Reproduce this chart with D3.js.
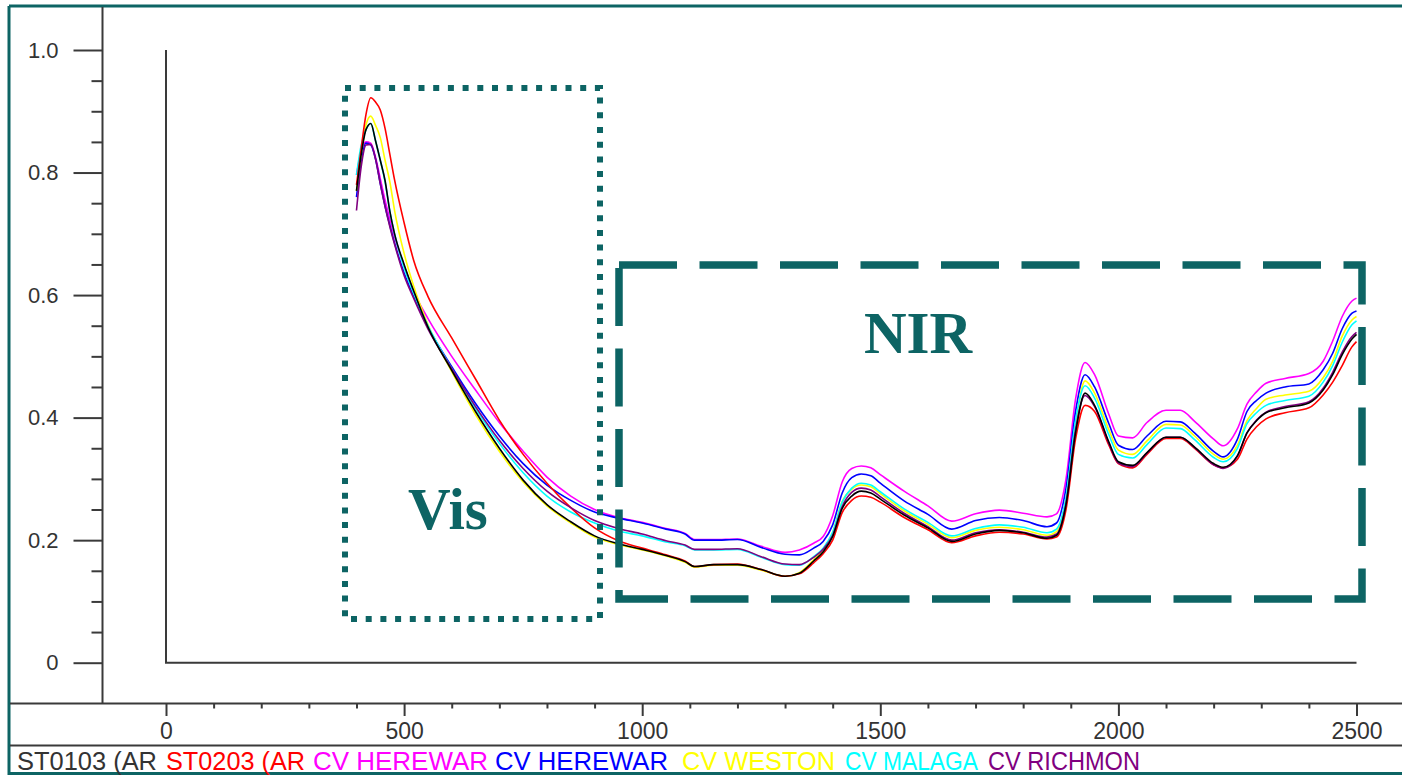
<!DOCTYPE html>
<html>
<head>
<meta charset="utf-8">
<script src="https://cdn.jsdelivr.net/npm/d3@7"></script>
<style>
  html, body { margin: 0; padding: 0; background: #fff; }
  svg { display: block; }
  .axis text { font-family: "Liberation Sans", Arial, sans-serif; fill: #333; }
  .axis line { stroke: #3a3a3a; stroke-width: 2; }
</style>
</head>
<body>
<svg id="chart" width="1402" height="775"></svg>
<script>
// Reflectance spectra (wavelength in nm) for seven samples
const wavelengths = [400,410,420,430,440,450,460,470,480,500,520,550,600,650,700,750,800,850,900,950,1000,
  1050,1090,1110,1150,1200,1250,1300,1330,1360,1380,1400,1420,1440,1460,1480,1500,
  1550,1600,1650,1700,1750,1800,1850,1870,1890,1910,1930,1950,1980,2000,2030,2060,2100,2130,2160,2200,2220,
  2250,2270,2290,2310,2350,2400,2430,2450,2470,2490,2500];

const st0103 = [0.77,0.83,0.87,0.88,0.852,0.82,0.787,0.737,0.70,0.650,0.607,0.548,
  0.477,0.410,0.350,0.298,0.258,0.230,0.207,0.194,0.185,
  0.175,0.165,0.157,0.160,0.160,0.152,0.141,0.146,0.166,0.181,
  0.206,0.252,0.272,0.280,0.277,0.267,
  0.241,0.220,0.198,0.210,0.216,0.212,0.203,0.208,0.258,0.375,0.440,
  0.420,0.360,0.328,0.322,0.343,0.368,0.368,0.352,0.325,0.319,
  0.338,0.375,0.395,0.408,0.416,0.424,0.445,0.470,0.503,0.528,0.536];

const st0203 = [0.78,0.84,0.895,0.922,0.915,0.902,0.872,0.83,0.788,0.718,0.657,0.598,
  0.530,0.463,0.396,0.340,0.293,0.253,0.220,0.199,0.187,
  0.176,0.166,0.157,0.160,0.161,0.152,0.141,0.145,0.163,0.178,
  0.200,0.245,0.265,0.272,0.270,0.262,
  0.237,0.217,0.196,0.207,0.213,0.210,0.202,0.205,0.250,0.365,0.420,
  0.410,0.355,0.325,0.318,0.340,0.366,0.366,0.350,0.323,0.318,
  0.332,0.365,0.385,0.398,0.408,0.416,0.437,0.458,0.485,0.515,0.524];

const herewarA = [0.796,0.835,0.85,0.848,0.825,0.79,0.755,0.724,0.695,0.648,0.606,0.562,
  0.500,0.445,0.392,0.345,0.303,0.272,0.250,0.237,0.229,
  0.219,0.211,0.201,0.201,0.202,0.190,0.180,0.184,0.195,0.206,
  0.240,0.295,0.317,0.321,0.318,0.307,
  0.280,0.256,0.231,0.243,0.249,0.244,0.238,0.243,0.300,0.430,0.490,
  0.470,0.405,0.370,0.367,0.392,0.412,0.412,0.394,0.365,0.354,
  0.382,0.422,0.442,0.456,0.464,0.472,0.492,0.525,0.565,0.590,0.595];

const herewarB = [0.76,0.82,0.848,0.845,0.822,0.782,0.745,0.714,0.685,0.636,0.598,0.548,
  0.483,0.423,0.370,0.325,0.290,0.265,0.246,0.236,0.228,
  0.218,0.210,0.200,0.200,0.201,0.188,0.177,0.176,0.187,0.198,
  0.225,0.277,0.302,0.308,0.305,0.293,
  0.264,0.242,0.218,0.232,0.237,0.232,0.222,0.228,0.285,0.410,0.470,
  0.450,0.390,0.355,0.348,0.370,0.394,0.393,0.375,0.345,0.336,
  0.365,0.410,0.428,0.440,0.450,0.455,0.478,0.505,0.545,0.570,0.574];

const weston = [0.77,0.83,0.878,0.892,0.877,0.857,0.82,0.785,0.738,0.668,0.615,0.552,
  0.475,0.405,0.345,0.295,0.256,0.228,0.205,0.193,0.184,
  0.174,0.164,0.156,0.159,0.159,0.151,0.141,0.147,0.168,0.185,
  0.213,0.263,0.283,0.290,0.287,0.276,
  0.248,0.226,0.204,0.216,0.221,0.217,0.208,0.214,0.268,0.390,0.460,
  0.440,0.380,0.347,0.340,0.362,0.389,0.388,0.370,0.340,0.332,
  0.355,0.395,0.415,0.430,0.437,0.443,0.465,0.492,0.533,0.559,0.565];

const malaga = [0.796,0.845,0.87,0.88,0.852,0.82,0.785,0.737,0.70,0.645,0.603,0.55,
  0.480,0.415,0.358,0.310,0.272,0.246,0.228,0.215,0.207,
  0.197,0.191,0.184,0.184,0.185,0.172,0.160,0.159,0.173,0.187,
  0.213,0.262,0.285,0.293,0.290,0.279,
  0.251,0.229,0.207,0.219,0.225,0.221,0.212,0.218,0.270,0.395,0.452,
  0.432,0.372,0.340,0.334,0.356,0.383,0.382,0.364,0.335,0.328,
  0.350,0.390,0.408,0.420,0.428,0.435,0.458,0.485,0.523,0.551,0.558];

const richmon = [0.738,0.81,0.845,0.846,0.822,0.782,0.745,0.712,0.683,0.632,0.595,0.545,
  0.480,0.418,0.363,0.317,0.280,0.253,0.232,0.219,0.210,
  0.199,0.192,0.185,0.185,0.186,0.173,0.161,0.160,0.172,0.185,
  0.208,0.255,0.278,0.285,0.282,0.271,
  0.244,0.222,0.200,0.212,0.217,0.213,0.205,0.210,0.260,0.380,0.436,
  0.418,0.358,0.326,0.320,0.342,0.368,0.368,0.351,0.323,0.317,
  0.337,0.375,0.396,0.409,0.418,0.426,0.448,0.474,0.507,0.532,0.539];

const legendLabels = ["ST0103 (AR", "ST0203 (AR", "CV HEREWAR", "CV HEREWAR", "CV WESTON", "CV MALAGA", "CV RICHMON"];
const seriesColors = ["#000000", "#ff0000", "#ff00ff", "#0000ff", "#ffff00", "#00ffff", "#800080"];
const seriesValues = [st0103, st0203, herewarA, herewarB, weston, malaga, richmon];

const yMajorTicks = [0, 0.2, 0.4, 0.6, 0.8, 1.0];
const xMajorTicks = [0, 500, 1000, 1500, 2000, 2500];

const svg = d3.select("#chart");
const W = 1402, H = 775;
const teal = "#0d6464";
const grey = "#3a3a3a";

const x = d3.scaleLinear().domain([0, 2500]).range([166, 1356.5]);
const y = d3.scaleLinear().domain([0, 1]).range([662.7, 50]);

// window frame
const frame = svg.append("g");
frame.append("line").attr("x1", 9).attr("x2", W).attr("y1", 6).attr("y2", 6)
  .attr("stroke", teal).attr("stroke-width", 3);
frame.append("line").attr("x1", 9).attr("x2", 9).attr("y1", 6).attr("y2", 775)
  .attr("stroke", teal).attr("stroke-width", 3);
frame.append("line").attr("x1", 9).attr("x2", W).attr("y1", 773.5).attr("y2", 773.5)
  .attr("stroke", teal).attr("stroke-width", 3);

// panel separators
frame.append("line").attr("x1", 102.5).attr("x2", 102.5).attr("y1", 7).attr("y2", 703.5)
  .attr("stroke", grey).attr("stroke-width", 2);
frame.append("line").attr("x1", 10).attr("x2", W).attr("y1", 703.5).attr("y2", 703.5)
  .attr("stroke", grey).attr("stroke-width", 2);
frame.append("line").attr("x1", 10).attr("x2", W).attr("y1", 745.5).attr("y2", 745.5)
  .attr("stroke", grey).attr("stroke-width", 2);

// y axis: major and minor ticks
const yMinor = d3.range(0, 1.0001, 0.05).filter(v => !yMajorTicks.some(t => Math.abs(t - v) < 1e-6));
const yAxisG = svg.append("g").attr("class", "axis").attr("transform", "translate(102.5,0)");
yAxisG.append("g")
  .call(d3.axisLeft(y).tickValues(yMajorTicks).tickSize(29).tickPadding(15)
    .tickFormat(d => d === 0 ? "0" : d3.format(".1f")(d)))
  .call(g => g.select(".domain").remove())
  .call(g => g.selectAll("text").style("font-size", "22px"));
yAxisG.append("g")
  .call(d3.axisLeft(y).tickValues(yMinor).tickSize(11).tickFormat(""))
  .call(g => g.select(".domain").remove());

// x axis: major and minor ticks
const xMinor = d3.range(0, 2501, 100).filter(v => v % 500 !== 0);
const xAxisG = svg.append("g").attr("class", "axis").attr("transform", "translate(0,703.5)");
xAxisG.append("g")
  .call(d3.axisBottom(x).tickValues(xMajorTicks).tickSize(12.5).tickPadding(7).tickFormat(d3.format("d")))
  .call(g => g.select(".domain").remove())
  .call(g => g.selectAll("text").style("font-size", "23px"));
xAxisG.append("g")
  .call(d3.axisBottom(x).tickValues(xMinor).tickSize(5).tickFormat(""))
  .call(g => g.select(".domain").remove());

// plot frame (L-shaped)
svg.append("path")
  .attr("d", `M${x(0)},${y(1)}V${y(0)}H${x(2500)}`)
  .attr("fill", "none").attr("stroke", grey).attr("stroke-width", 2);

// spectra
const line = d3.line()
  .x(d => x(d[0]))
  .y(d => y(d[1]))
  .curve(d3.curveMonotoneX);

const drawOrder = [2, 3, 4, 5, 1, 6, 0];
svg.append("g").selectAll("path")
  .data(drawOrder)
  .join("path")
  .attr("d", i => line(wavelengths.map((w, k) => [w, seriesValues[i][k]])))
  .attr("fill", "none")
  .attr("stroke", i => seriesColors[i])
  .attr("stroke-width", 1.6)
  .attr("stroke-linejoin", "round");

// region boxes
svg.append("rect")
  .attr("x", 345).attr("y", 88).attr("width", 255).attr("height", 531)
  .attr("fill", "none").attr("stroke", teal).attr("stroke-width", 6)
  .attr("stroke-dasharray", "6 8.7");

svg.append("rect")
  .attr("x", 619).attr("y", 265).attr("width", 743).attr("height", 334)
  .attr("fill", "none").attr("stroke", teal).attr("stroke-width", 7.5)
  .attr("stroke-dasharray", "58 22.5");

svg.append("text")
  .attr("x", 408).attr("y", 529)
  .attr("font-family", "'Liberation Serif', 'Times New Roman', serif")
  .attr("font-weight", "bold").attr("font-size", 59)
  .attr("fill", teal).text("Vis");

svg.append("text")
  .attr("x", 864).attr("y", 353)
  .attr("font-family", "'Liberation Serif', 'Times New Roman', serif")
  .attr("font-weight", "bold").attr("font-size", 59)
  .attr("fill", teal).text("NIR");

// legend strip
const legendX = [17, 166, 313, 495, 682, 845, 988];
const legendW = [140, 139, 175, 173, 153, 133, 152];
const legendTextColors = ["#333333", "#ff0000", "#ff00ff", "#0000ff", "#ffff00", "#00ffff", "#800080"];
svg.append("g").selectAll("text")
  .data(legendLabels)
  .join("text")
  .attr("x", (d, i) => legendX[i])
  .attr("y", 770)
  .attr("font-family", "'Liberation Sans', Arial, sans-serif")
  .attr("font-size", 25)
  .attr("textLength", (d, i) => legendW[i])
  .attr("lengthAdjust", "spacingAndGlyphs")
  .attr("fill", (d, i) => legendTextColors[i])
  .text(d => d);
</script>
</body>
</html>
